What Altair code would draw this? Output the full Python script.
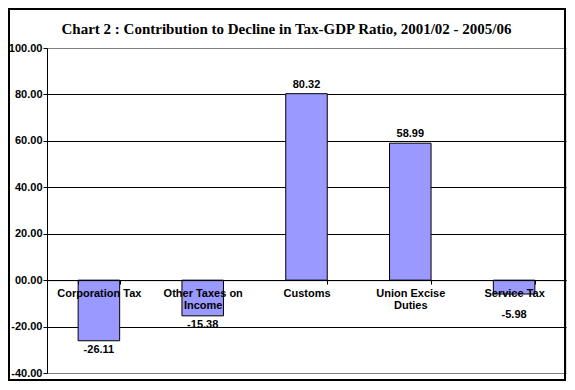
import altair as alt
import pandas as pd

categories = ["Corporation Tax", "Other Taxes on Income", "Customs", "Union Excise Duties", "Service Tax"]
values = [-26.11, -15.38, 80.32, 58.99, -5.98]
y_ticks = [-40, -20, 0, 20, 40, 60, 80, 100]
title_text = "Chart 2 : Contribution to Decline in Tax-GDP Ratio, 2001/02 - 2005/06"

df = pd.DataFrame({"category": categories, "value": values})

label_expr = (
    "datum.label == 'Other Taxes on Income' ? ['Other Taxes on', 'Income'] : "
    "datum.label == 'Union Excise Duties' ? ['Union Excise', 'Duties'] : datum.label"
)

x_enc = alt.X(
    "category:N",
    sort=categories,
    scale=alt.Scale(paddingInner=0.6, paddingOuter=0.3),
    axis=alt.Axis(
        title=None, orient="bottom", offset=-92.9, labelAngle=0,
        labelFont="Liberation Sans", labelFontWeight="bold", labelFontSize=11,
        labelColor="black", labelExpr=label_expr, labelLineHeight=12.5,
        labelPadding=3, tickSize=4, tickColor="black", tickBand="extent",
        domainColor="black", grid=False, zindex=1, labelLimit=200,
    ),
)
y_scale = alt.Scale(domain=[-40, 100], nice=False, zero=False)
y_enc = alt.Y(
    "value:Q",
    scale=y_scale,
    axis=alt.Axis(
        title=None, values=y_ticks,
        labelExpr="datum.value == 0 ? '00.00' : replace(format(datum.value, '.2f'), '\u2212', '-')",
        labelFont="Liberation Sans", labelFontWeight="bold", labelFontSize=11,
        labelColor="black", labelPadding=1, tickSize=4, tickColor="black",
        domainColor="black", grid=True,
        gridColor=alt.condition("datum.value == 100 || datum.value == -40",
                                alt.value("#808080"), alt.value("black")),
        gridOpacity=1, zindex=0,
    ),
)

base = alt.Chart(df).transform_calculate(
    lbl="replace(format(datum.value, '.2f'), '\u2212', '-')",
    ly="min(datum.value, -11)",
)

bars = base.mark_bar(color="#9999FF", stroke="black", strokeWidth=1).encode(
    x=x_enc, y=y_enc
)

pos_text = base.transform_filter("datum.value > 0").mark_text(
    font="Liberation Sans", fontWeight="bold", fontSize=11, color="black",
    baseline="bottom", dy=-4,
).encode(
    x=alt.X("category:N", sort=categories),
    y=alt.Y("value:Q", scale=y_scale),
    text="lbl:N",
)

neg_text = base.transform_filter("datum.value < 0").mark_text(
    font="Liberation Sans", fontWeight="bold", fontSize=11, color="black",
    baseline="top", dy=3,
).encode(
    x=alt.X("category:N", sort=categories),
    y=alt.Y("ly:Q", scale=y_scale),
    text="lbl:N",
)

border = alt.Chart(alt.Data(values=[{"a": 1}])).mark_rect(
    filled=False, stroke="black", strokeWidth=2
).encode(
    x=alt.value(-38), x2=alt.value(518), y=alt.value(-39), y2=alt.value(332)
)

chart = alt.layer(bars, pos_text, neg_text, border).properties(
    width=519, height=325,
    title=alt.TitleParams(
        title_text, font="Liberation Serif", fontWeight="bold", fontSize=15,
        color="black", anchor="middle", dx=-20, offset=-41, baseline="alphabetic",
    ),
    autosize=alt.AutoSizeParams(type="none"),
    padding={"left": 39, "top": 40, "right": 1, "bottom": 8},
).configure_view(
    stroke="#808080", strokeWidth=1
).configure(background="white")

chart.save("out.html", embed_options={"renderer": "svg", "actions": False})
